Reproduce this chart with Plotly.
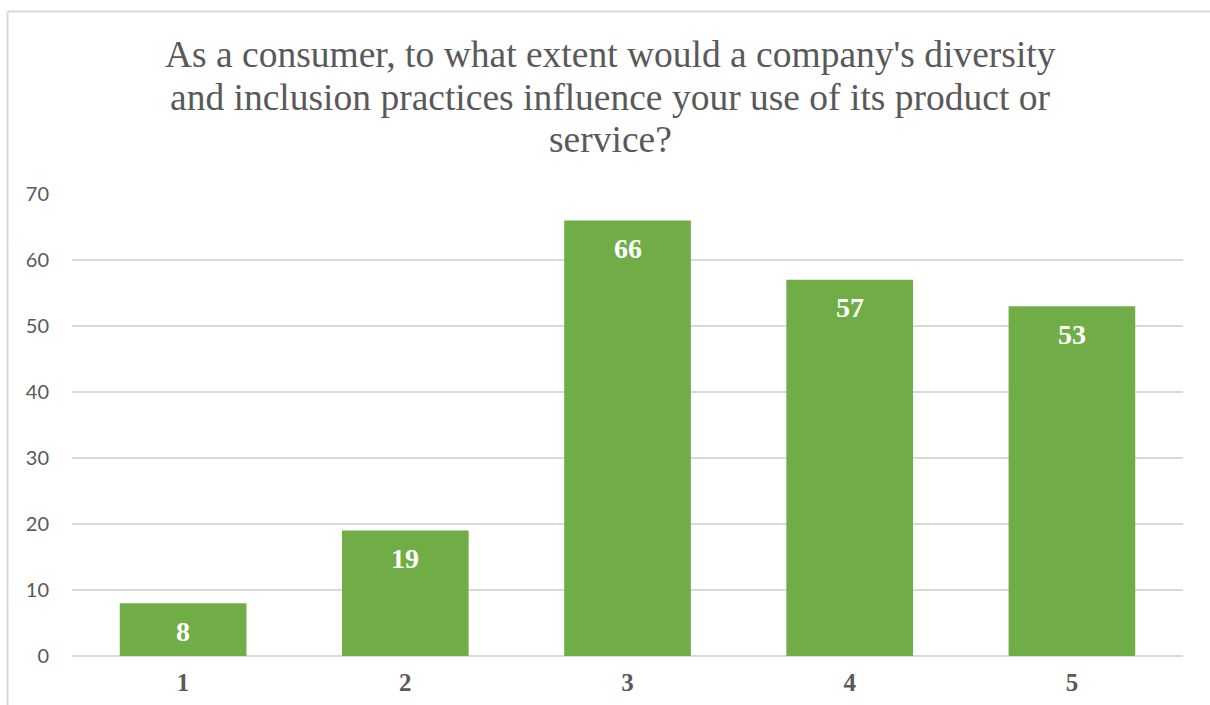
import plotly.graph_objects as go

# Survey responses on a 1-5 influence scale
categories = ["1", "2", "3", "4", "5"]
counts = [8, 19, 66, 57, 53]
y_ticks = [0, 10, 20, 30, 40, 50, 60, 70]
title_lines = [
    "As a consumer, to what extent would a company's diversity",
    "and inclusion practices influence your use of its product or",
    "service?",
]

BAR_GREEN = "#70AD47"
GRID_GRAY = "#D9D9D9"
TEXT_GRAY = "#595959"

# Plot-area geometry in pixels, used to place the title and frame
W, H = 1210, 705
L, R, T, B = 72, 27, 194, 49
plot_w = W - L - R
plot_h = H - T - B


def px_to_paper_x(px):
    return (px - L) / plot_w


def px_to_paper_y(py):
    return (H - B - py) / plot_h


fig = go.Figure()
fig.add_trace(go.Bar(
    x=categories,
    y=counts,
    marker=dict(color=BAR_GREEN, line=dict(width=0)),
    hoverinfo="x+y",
))

# Value labels placed just inside the top of each bar
for i, val in enumerate(counts):
    fig.add_annotation(
        x=i, y=val, xref="x", yref="y",
        text=f"<b>{val}</b>", showarrow=False,
        yanchor="middle", yshift=-28,
        font=dict(family="Liberation Serif", size=28, color="white"),
    )

# Three-line title with tight line spacing
for k, line in enumerate(title_lines):
    fig.add_annotation(
        x=px_to_paper_x(610), y=px_to_paper_y(55 + 42 * k),
        xref="paper", yref="paper",
        text=line, showarrow=False,
        xanchor="center", yanchor="middle",
        font=dict(family="Liberation Serif", size=37.5, color=TEXT_GRAY),
    )

# Chart frame (top and left edges visible)
fig.add_shape(type="line", xref="paper", yref="paper",
              x0=px_to_paper_x(7.5), x1=px_to_paper_x(1215),
              y0=px_to_paper_y(11.5), y1=px_to_paper_y(11.5),
              line=dict(color=GRID_GRAY, width=2))
fig.add_shape(type="line", xref="paper", yref="paper",
              x0=px_to_paper_x(7.5), x1=px_to_paper_x(7.5),
              y0=px_to_paper_y(710), y1=px_to_paper_y(11.5),
              line=dict(color=GRID_GRAY, width=2))

fig.update_layout(
    width=W, height=H,
    margin=dict(l=L, r=R, t=T, b=B),
    paper_bgcolor="white", plot_bgcolor="white",
    bargap=0.43,
    showlegend=False,
    xaxis=dict(
        type="category", range=[-0.5, 4.5], automargin=False,
        tickfont=dict(family="Liberation Serif", size=25, color=TEXT_GRAY),
        tickprefix="<b>", ticksuffix="</b>",
        showgrid=False, showline=False, ticks="", zeroline=False,
        ticklabelstandoff=9,
    ),
    yaxis=dict(
        range=[0, 70], tickvals=y_ticks, automargin=False,
        tickfont=dict(family="Lato", size=20, color=TEXT_GRAY),
        showgrid=True, gridcolor=GRID_GRAY, gridwidth=1.5,
        zeroline=True, zerolinecolor=GRID_GRAY, zerolinewidth=1.5,
        showline=False, ticks="", ticklabelstandoff=22,
    ),
)

fig.write_html("out.html")
